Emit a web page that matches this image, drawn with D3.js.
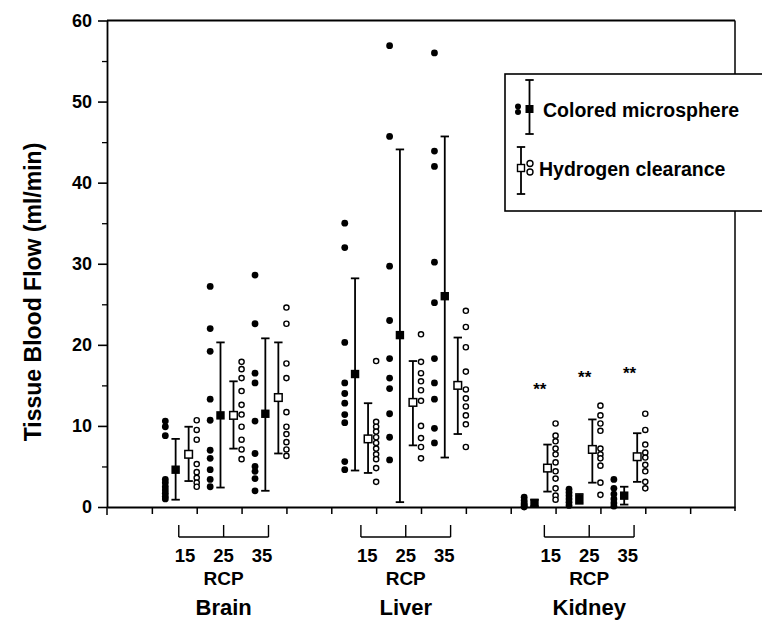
<!DOCTYPE html>
<html>
<head>
<meta charset="utf-8">
<script src="https://cdn.jsdelivr.net/npm/d3@7"></script>
<style>
  body { margin: 0; background: #fff; }
  svg { display: block; }
  text { font-family: "Liberation Sans", Arial, Helvetica, sans-serif; font-weight: bold; fill: #000; }
</style>
</head>
<body>
<div id="chart"></div>
<script>
// organs and recirculation periods
const organs = ["Brain", "Liver", "Kidney"];
const rcpLabels = ["15", "25", "35"];
const yTicks = [0, 10, 20, 30, 40, 50, 60];
const yMinor = [5, 15, 25, 35, 45, 55];

// colored microsphere, one list per column (brain 15/25/35, liver 15/25/35, kidney 15/25/35)
const microPts = [
  [10.6, 9.9, 8.8, 3.4, 3.0, 2.5, 2.1, 1.7, 1.3, 1.0],
  [27.2, 22.0, 19.2, 13.3, 10.7, 7.0, 6.0, 4.6, 3.4, 2.5],
  [28.6, 22.6, 16.5, 15.3, 10.6, 6.6, 5.0, 4.4, 3.5, 2.0],
  [35.0, 32.0, 20.3, 15.3, 14.0, 12.8, 11.4, 10.4, 5.6, 4.6],
  [56.9, 45.7, 29.7, 23.0, 18.3, 15.9, 14.6, 11.5, 8.6, 5.8],
  [56.0, 43.9, 42.0, 30.2, 25.2, 18.3, 15.3, 13.3, 9.7, 7.9],
  [1.2, 0.8, 0.5, 0.3, 0.1, 0.0],
  [2.2, 1.8, 1.4, 1.0, 0.6, 0.2],
  [3.4, 2.3, 1.6, 1.0, 0.5, 0.1]
];
const microMean = [4.6, 11.3, 11.5, 16.4, 21.2, 26.0, 0.5, 1.0, 1.4];
const microLo   = [0.9, 2.4, 2.0, 4.5, 0.6, 6.1, 0.1, 0.4, 0.3];
const microHi   = [8.4, 20.3, 20.8, 28.2, 44.1, 45.7, 0.9, 1.6, 2.5];

// hydrogen clearance
const h2Pts = [
  [10.7, 9.5, 8.3, 5.3, 4.3, 3.6, 3.0, 2.5],
  [17.9, 17.0, 15.9, 14.3, 12.6, 11.4, 9.9, 8.3, 7.1, 5.9],
  [24.6, 22.6, 17.7, 15.9, 11.7, 9.9, 9.0, 8.0, 7.1, 6.3],
  [18.0, 10.5, 9.9, 9.3, 8.6, 7.9, 7.2, 6.5, 5.9, 4.8, 3.1],
  [21.3, 17.9, 16.5, 15.5, 14.4, 13.1, 10.0, 8.5, 7.4, 6.0],
  [24.2, 22.2, 19.7, 16.7, 14.5, 13.4, 12.4, 11.3, 10.2, 7.4],
  [10.3, 8.8, 8.1, 7.2, 6.5, 5.5, 4.4, 3.5, 2.3, 1.4, 0.9],
  [12.5, 11.3, 10.3, 9.4, 7.2, 6.5, 6.0, 5.1, 3.0, 1.5],
  [11.5, 9.5, 7.7, 6.7, 6.1, 5.2, 4.4, 3.1, 2.3]
];
const h2Mean = [6.5, 11.3, 13.5, 8.4, 12.9, 15.0, 4.8, 7.1, 6.2];
const h2Lo   = [3.2, 7.2, 6.6, 4.2, 7.6, 9.0, 1.9, 3.0, 3.1];
const h2Hi   = [9.9, 15.5, 20.3, 12.8, 18.0, 20.9, 7.7, 10.8, 9.1];

// significance marks (kidney columns) and their height
const starCols = [6, 7, 8];
const starAt = [14.7, 16.2, 16.6];

const W = 762, H = 621;
const svg = d3.select("#chart").append("svg")
  .attr("width", W)
  .attr("height", H);

const x = d3.scaleLinear().domain([0, 14]).range([107, 735]);
const y = d3.scaleLinear().domain([0, 60]).range([507, 20.5]);

const colX = i => 2 + Math.floor(i / 3) * 4 + (i % 3);

// frame
svg.append("line")
   .attr("x1", x(0)).attr("x2", x(14))
   .attr("y1", y(60)).attr("y2", y(60))
   .attr("stroke", "#000").attr("stroke-width", 1.8);
svg.append("line")
   .attr("x1", x(14)).attr("x2", x(14))
   .attr("y1", y(60)).attr("y2", y(0) + 4)
   .attr("stroke", "#000").attr("stroke-width", 1.5);
svg.append("line")
   .attr("x1", x(0)).attr("x2", x(0))
   .attr("y1", y(0)).attr("y2", y(0) + 8)
   .attr("stroke", "#000").attr("stroke-width", 1.5);

// y axis
const yAxis = svg.append("g")
  .attr("transform", `translate(${x(0)},0)`)
  .call(d3.axisLeft(y).tickValues(yTicks).tickSize(9).tickSizeOuter(0).tickPadding(6));
yAxis.select(".domain").attr("stroke-width", 1.8);
yAxis.selectAll(".tick line").attr("stroke-width", 1.6);
yAxis.selectAll(".tick text").style("font-size", "18px");

svg.append("g")
   .attr("transform", `translate(${x(0)},0)`)
   .call(d3.axisLeft(y).tickValues(yMinor).tickSize(5).tickFormat(""))
   .call(g => g.select(".domain").remove())
   .selectAll(".tick line").attr("stroke-width", 1.3);

// x axis
const xAxis = svg.append("g")
  .attr("transform", `translate(0,${y(0)})`)
  .call(d3.axisBottom(x).tickValues(d3.range(1, 14)).tickSize(7).tickSizeOuter(0).tickFormat(""));
xAxis.select(".domain").attr("stroke-width", 1.8);
xAxis.selectAll(".tick line").attr("stroke-width", 1.5);

svg.append("text")
   .attr("transform", `translate(41,292) rotate(-90)`)
   .attr("text-anchor", "middle")
   .style("font-size", "23px")
   .text("Tissue Blood Flow (ml/min)");

// error bars
function errBar(cx, lo, hi) {
  const g = svg.append("g").attr("stroke", "#000").attr("stroke-width", 1.8);
  g.append("line").attr("x1", cx).attr("x2", cx).attr("y1", y(lo)).attr("y2", y(hi));
  g.append("line").attr("x1", cx - 4.2).attr("x2", cx + 4.2).attr("y1", y(lo)).attr("y2", y(lo));
  g.append("line").attr("x1", cx - 4.2).attr("x2", cx + 4.2).attr("y1", y(hi)).attr("y2", y(hi));
}

microPts.forEach((pts, i) => {
  const c = colX(i);
  errBar(x(c - 0.47), microLo[i], microHi[i]);
  errBar(x(c - 0.18), h2Lo[i], h2Hi[i]);

  svg.append("g").selectAll("circle")
     .data(pts).join("circle")
     .attr("cx", x(c - 0.7)).attr("cy", d => y(d))
     .attr("r", 3.4).attr("fill", "#000");

  svg.append("g").selectAll("circle")
     .data(h2Pts[i]).join("circle")
     .attr("cx", x(c)).attr("cy", d => y(d))
     .attr("r", 2.6).attr("fill", "#fff")
     .attr("stroke", "#000").attr("stroke-width", 1.4);

  svg.append("rect")
     .attr("x", x(c - 0.47) - 4.2).attr("y", y(microMean[i]) - 4.2)
     .attr("width", 8.4).attr("height", 8.4).attr("fill", "#000");

  svg.append("rect")
     .attr("x", x(c - 0.18) - 3.8).attr("y", y(h2Mean[i]) - 3.8)
     .attr("width", 7.6).attr("height", 7.6)
     .attr("fill", "#fff").attr("stroke", "#000").attr("stroke-width", 1.5);
});

starCols.forEach((col, j) => {
  svg.append("text")
     .attr("x", x(colX(col) - 0.35)).attr("y", y(starAt[j]) + 7)
     .attr("text-anchor", "middle")
     .style("font-size", "17px")
     .text("**");
});

// RCP brackets under each organ
const bracketShift = [0.4, 0.34, 0.25];
organs.forEach((name, g) => {
  const left = x(2 + g * 4 - bracketShift[g]);
  const right = x(4 + g * 4 - bracketShift[g]);
  const mid = (left + right) / 2;
  const b = svg.append("g").attr("stroke", "#000").attr("stroke-width", 1.4);
  b.append("line").attr("x1", left).attr("x2", right).attr("y1", 537).attr("y2", 537);
  [left, mid, right].forEach(px => {
    b.append("line").attr("x1", px).attr("x2", px).attr("y1", 525).attr("y2", 537);
  });
  rcpLabels.forEach((lab, k) => {
    svg.append("text")
       .attr("x", mid + (k - 1) * 38.5).attr("y", 562)
       .attr("text-anchor", "middle")
       .style("font-size", "18.5px")
       .text(lab);
  });
  svg.append("text")
     .attr("x", mid).attr("y", 585)
     .attr("text-anchor", "middle")
     .style("font-size", "19px")
     .text("RCP");
  svg.append("text")
     .attr("x", mid).attr("y", 615)
     .attr("text-anchor", "middle")
     .style("font-size", "22px")
     .text(name);
});

// legend
const lg = svg.append("g");
lg.append("rect")
  .attr("x", 505).attr("y", 74).attr("width", 280).attr("height", 137)
  .attr("fill", "#fff").attr("stroke", "#000").attr("stroke-width", 1.6);

const lgBar = (cx, y1, y2) => {
  const g = lg.append("g").attr("stroke", "#000").attr("stroke-width", 1.8);
  g.append("line").attr("x1", cx).attr("x2", cx).attr("y1", y1).attr("y2", y2);
  g.append("line").attr("x1", cx - 4.2).attr("x2", cx + 4.2).attr("y1", y1).attr("y2", y1);
  g.append("line").attr("x1", cx - 4.2).attr("x2", cx + 4.2).attr("y1", y2).attr("y2", y2);
};
lgBar(529.5, 80, 134);
lg.append("rect").attr("x", 525.5).attr("y", 105).attr("width", 8).attr("height", 8).attr("fill", "#000");
[106.5, 112].forEach(cy => lg.append("circle").attr("cx", 518).attr("cy", cy).attr("r", 3).attr("fill", "#000"));
lg.append("text").attr("x", 543).attr("y", 116.5).style("font-size", "19.5px").text("Colored microsphere");

lgBar(521, 147, 194);
lg.append("rect").attr("x", 517.5).attr("y", 164.5).attr("width", 7).attr("height", 7)
  .attr("fill", "#fff").attr("stroke", "#000").attr("stroke-width", 1.4);
[163.5, 172].forEach(cy => lg.append("circle").attr("cx", 530).attr("cy", cy).attr("r", 3)
  .attr("fill", "#fff").attr("stroke", "#000").attr("stroke-width", 1.4));
lg.append("text").attr("x", 539).attr("y", 176).style("font-size", "19.5px").text("Hydrogen clearance");
</script>
</body>
</html>
